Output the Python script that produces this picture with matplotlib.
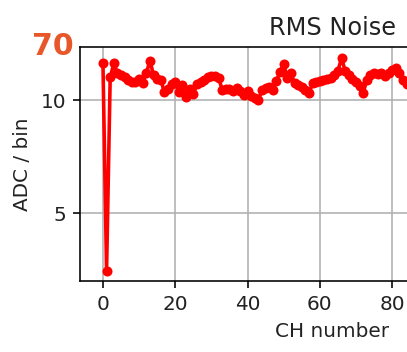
import matplotlib
matplotlib.use("Agg")
import matplotlib.pyplot as plt

# RMS noise per readout channel (ADC counts per bin)
channels = list(range(85))
rms_noise = [
    11.62, 2.43, 11.00, 11.62, 11.20, 11.10, 11.00, 10.90, 10.78, 10.80,
    10.95, 10.75, 11.20, 11.74, 11.10, 10.95, 10.90, 10.35, 10.50, 10.70,
    10.82, 10.35, 10.65, 10.15, 10.50, 10.25, 10.72, 10.80, 10.88, 11.00,
    11.08, 11.08, 10.98, 10.45, 10.48, 10.50, 10.42, 10.55, 10.40, 10.22,
    10.42, 10.20, 10.08, 10.02, 10.44, 10.52, 10.60, 10.44, 10.85, 11.25,
    11.59, 10.96, 11.18, 10.74, 10.66, 10.56, 10.44, 10.32, 10.74, 10.81,
    10.85, 10.90, 10.92, 10.97, 11.10, 11.30, 11.85, 11.30, 11.12, 10.95,
    10.80, 10.62, 10.32, 10.90, 11.10, 11.20, 11.15, 11.22, 11.05, 11.20,
    11.35, 11.40, 11.20, 10.90, 10.70,
]
y_ticks = [5, 10]
panel_tag = "70"

dpi = 144
fig = plt.figure(figsize=(407 / dpi, 352 / dpi), dpi=dpi)
W, H = 407, 352
# the panel is wider than the canvas: its right part is clipped off
ax = fig.add_axes([80 / W, (H - 281) / H, 505 / W, 234 / H])

ax.plot(channels, rms_noise, color="red", marker="o", markersize=4,
        linewidth=1.8)
ax.set_xlim(-6.35, 133.35)
ax.set_ylim(1.99, 12.35)
ax.set_yticks(y_ticks)
ax.set_xticks([0, 20, 40, 60, 80, 100, 120])
ax.grid(True, color="#b0b0b0", linewidth=0.8)
ax.set_axisbelow(True)

ax.set_title("RMS Noise", color="#222222")
ax.set_xlabel("CH number", color="#222222")
ax.set_ylabel("ADC / bin", color="#222222")
ax.tick_params(labelcolor="#222222")

fig.text(32 / W, 1 - 55 / H, panel_tag, color="#e8572a", fontsize=15,
         fontweight="bold", ha="left", va="baseline")

fig.savefig("out.png", dpi=dpi)
